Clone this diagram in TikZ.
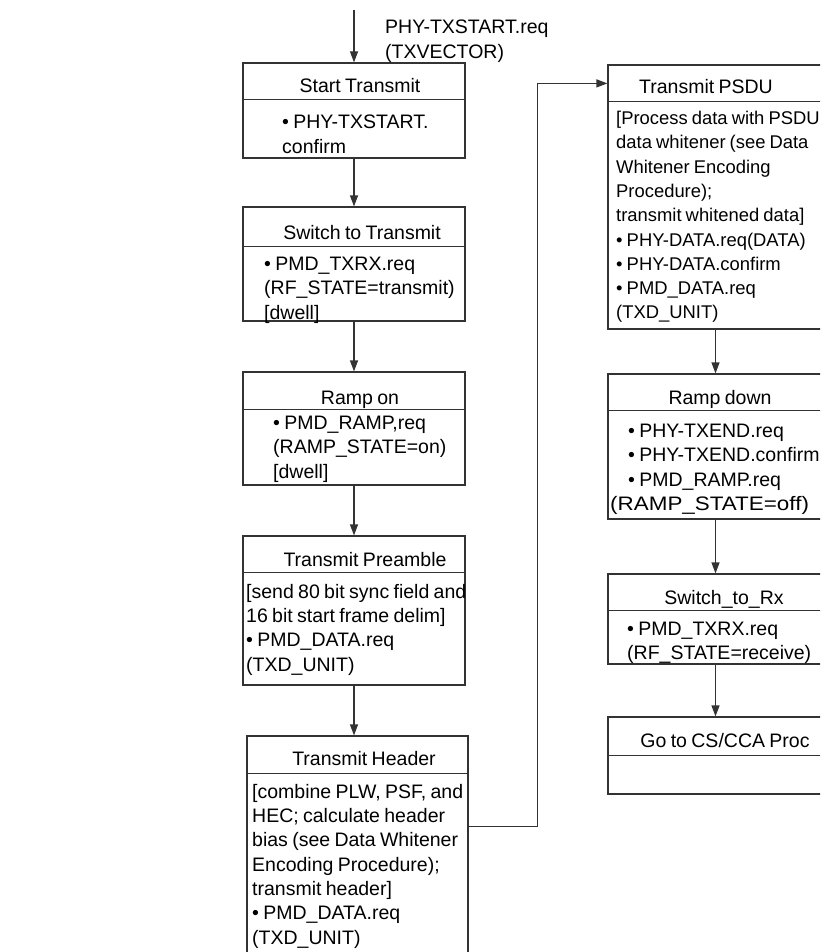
\documentclass[tikz,border=0pt]{standalone}
\usepackage{fontspec}
\setmainfont{Liberation Sans}[WordSpace=0.8]
\usetikzlibrary{positioning, calc, arrows.meta}

\begin{document}
\begin{tikzpicture}[x=1pt, y=-1pt, font=\fontsize{19.5}{24.3}\selectfont,
    block/.style={draw=black!80, line width=1.2pt, rectangle, inner sep=0pt},
    title/.style={anchor=base, inner sep=0pt, text=black},
    body/.style={anchor=north west, align=left, inner sep=0pt, text=black},
    rule/.style={draw=black!80, line width=1pt},
    flow/.style={draw=black!80, line width=1.2pt, -{Triangle[length=11pt, width=8pt]}}]
    \useasboundingbox (0,0) rectangle (820,952);
    \clip (0,0) rectangle (820,952);

    % Left column boxes
    \node[block, minimum width=222pt, minimum height=95pt] (start) at (354,110.5) {};
    \node[block, minimum width=222pt, minimum height=114pt] (switchtx) at (354,264) {};
    \node[block, minimum width=222pt, minimum height=113pt] (rampon) at (354,428.5) {};
    \node[block, minimum width=222pt, minimum height=149pt] (preamble) at (354,610.5) {};
    \node[block, minimum width=221pt, minimum height=224pt] (header) at (357.5,848) {};

    % Right column boxes
    \node[block, minimum width=215pt, minimum height=264pt] (psdu) at (715.5,197) {};
    \node[block, minimum width=215pt, minimum height=145pt] (rampdown) at (715.5,446.5) {};
    \node[block, minimum width=215pt, minimum height=90pt] (torx) at (715.5,619) {};
    \node[block, minimum width=215pt, minimum height=77pt] (cca) at (715.5,755.5) {};

    % Title rules
    \draw[rule] ($(start.north west)+(2,37)$) -- ($(start.north east)+(-2,37)$);
    \draw[rule] ($(switchtx.north west)+(2,40)$) -- ($(switchtx.north east)+(-2,40)$);
    \draw[rule] ($(rampon.north west)+(2,38)$) -- ($(rampon.north east)+(-2,38)$);
    \draw[rule] ($(preamble.north west)+(2,37)$) -- ($(preamble.north east)+(-2,37)$);
    \draw[rule] ($(header.north west)+(2,38)$) -- ($(header.north east)+(-2,38)$);
    \draw[rule] ($(psdu.north west)+(0,37)$) -- ($(psdu.north east)+(0,37)$);
    \draw[rule] ($(rampdown.north west)+(0,37)$) -- ($(rampdown.north east)+(0,37)$);
    \draw[rule] ($(torx.north west)+(0,37)$) -- ($(torx.north east)+(0,37)$);
    \draw[rule] ($(cca.north west)+(0,39)$) -- ($(cca.north east)+(0,39)$);

    % Titles
    \node[title] (starttitle) at (360,93) {Start Transmit};
    \node[title] (switchtxtitle) at (362,239) {Switch to Transmit};
    \node[title] (ramptitle) at (360,404) {Ramp on};
    \node[title] (preambletitle) at (365,566) {Transmit Preamble};
    \node[title] (headertitle) at (364,765) {Transmit Header};
    \node[title] (psdutitle) at (706,94) {Transmit PSDU};
    \node[title] (rampdowntitle) at (720,404) {Ramp down};
    \node[title] (torxtitle) at (724,604) {Switch\_to\_Rx};
    \node[title] (ccatitle) at (725,747) {Go to CS/CCA Proc};

    % Box contents
    \node[body] (startbody) at (282,115) {• PHY-TXSTART.\\confirm};
    \node[body] (switchtxbody) at (264,257) {• PMD\_TXRX.req\\(RF\_STATE=transmit)\\{[dwell]}};
    \node[body] (ramponbody) at (273,416) {• PMD\_RAMP,req\\(RAMP\_STATE=on)\\{[dwell]}};
    \node[body] (preamblebody) at (246,584) {[send 80 bit sync field and\\16 bit start frame delim]\\• PMD\_DATA.req\\(TXD\_UNIT)};
    \node[body] (headerbody) at (252,784) {[combine PLW, PSF, and\\HEC; calculate header\\bias (see Data Whitener\\Encoding Procedure);\\transmit header]\\• PMD\_DATA.req\\(TXD\_UNIT)};
    \node[body, font=\fontsize{18.4}{24.3}\selectfont] (psdubody) at (616,111) {[Process data with PSDU\\data whitener (see Data\\Whitener Encoding\\Procedure);\\transmit whitened data]\\• PHY-DATA.req(DATA)\\• PHY-DATA.confirm\\• PMD\_DATA.req\\(TXD\_UNIT)};
    \node[body] (rampdownbody) at (610,424) {\hspace*{18pt}• PHY-TXEND.req\\\hspace*{18pt}• PHY-TXEND.confirm\\\hspace*{18pt}• PMD\_RAMP.req\\\scalebox{1.15}[1]{(RAMP\_STATE=off)}};
    \node[body] (torxbody) at (627,622) {• PMD\_TXRX.req\\(RF\_STATE=receive)};

    % Incoming primitive
    \coordinate (entry) at (354,10);
    \node[body] (txreq) at (385,20) {PHY-TXSTART.req\\(TXVECTOR)};

    % Connectors
    \draw[flow] (entry) -- (start.north);
    \draw[flow] (start) -- (switchtx);
    \draw[flow] (switchtx) -- (rampon);
    \draw[flow] (rampon) -- (preamble);
    \draw[flow] (preamble.south) -- (preamble.south |- header.north);
    \draw[flow] ($(header.north east)+(0,91)$) -- ++(69,0) |- ($(psdu.north west)+(0,19)$);
    \draw[flow] (psdu) -- (rampdown);
    \draw[flow] (rampdown) -- (torx);
    \draw[flow] (torx) -- (cca);
\end{tikzpicture}
\end{document}
